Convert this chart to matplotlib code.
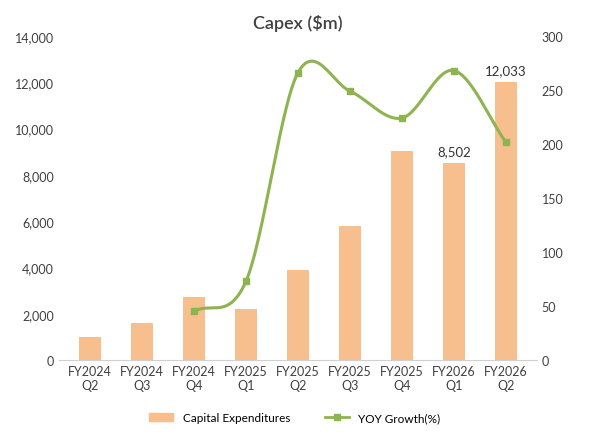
import numpy as np
import matplotlib.pyplot as plt
from matplotlib.lines import Line2D
from matplotlib.patches import Patch

plt.rcParams['font.family'] = ['Lato', 'DejaVu Sans']

quarters = ["FY2024\nQ2", "FY2024\nQ3", "FY2024\nQ4", "FY2025\nQ1", "FY2025\nQ2",
            "FY2025\nQ3", "FY2025\nQ4", "FY2026\nQ1", "FY2026\nQ2"]
capex = [1000, 1620, 2740, 2210, 3900, 5770, 9020, 8502, 12033]
yoy_idx = [2, 3, 4, 5, 6, 7, 8]
yoy = [45, 73, 266, 249, 224, 268, 202]

bar_color = '#F8BF8E'
line_color = '#8DB450'


def catmull_rom(xs, ys, n=30):
    # smooth curve through points, like Excel's smoothed line
    xs = np.asarray(xs, float)
    ys = np.asarray(ys, float)
    px = np.concatenate([[2 * xs[0] - xs[1]], xs, [2 * xs[-1] - xs[-2]]])
    py = np.concatenate([[2 * ys[0] - ys[1]], ys, [2 * ys[-1] - ys[-2]]])
    outx, outy = [], []
    for i in range(1, len(px) - 2):
        t = np.linspace(0, 1, n)
        for p, out in ((px, outx), (py, outy)):
            p0, p1, p2, p3 = p[i - 1], p[i], p[i + 1], p[i + 2]
            out.extend(0.5 * (2 * p1 + (-p0 + p2) * t + (2 * p0 - 5 * p1 + 4 * p2 - p3) * t ** 2
                              + (-p0 + 3 * p1 - 3 * p2 + p3) * t ** 3))
    return outx, outy


fig, ax = plt.subplots(figsize=(5.9, 4.35), dpi=100)
x = np.arange(len(quarters))
ax.bar(x, capex, width=0.42, color=bar_color, zorder=1)
ax.set_ylim(0, 14000)
ax.set_yticks(range(0, 14001, 2000))
ax.set_yticklabels([f"{v:,}" for v in range(0, 14001, 2000)])
ax.set_xticks(x)
ax.set_xticklabels(quarters)
ax.set_xlim(-0.6, len(quarters) - 0.4)
for i in (7, 8):
    ax.text(x[i], capex[i] + 250, f"{capex[i]:,}", ha='center', va='bottom', fontsize=9.5, color='#333333')

ax2 = ax.twinx()
sx, sy = catmull_rom(yoy_idx, yoy)
ax2.plot(sx, sy, color=line_color, lw=2.2)
ax2.plot(yoy_idx, yoy, 's', color=line_color, ms=5)
ax2.set_ylim(0, 300)
ax2.set_yticks(range(0, 301, 50))

for a in (ax, ax2):
    for s in a.spines.values():
        s.set_visible(False)
    a.tick_params(length=0, labelsize=9, colors='#404040')
ax.spines['bottom'].set_visible(True)
ax.spines['bottom'].set_color('#d0d0d0')

ax.set_title("Capex ($m)", fontsize=13, color='#404040', fontweight='semibold')
handles = [Patch(color=bar_color, label='Capital Expenditures'),
           Line2D([0], [0], color=line_color, lw=2, marker='s', ms=5, label='YOY Growth(%)')]
fig.legend(handles=handles, loc='lower center', ncol=2, frameon=False, fontsize=8.5,
           bbox_to_anchor=(0.5, 0.0), columnspacing=3)
fig.subplots_adjust(left=0.1, right=0.91, top=0.915, bottom=0.17)
fig.savefig('out.png', dpi=100)
